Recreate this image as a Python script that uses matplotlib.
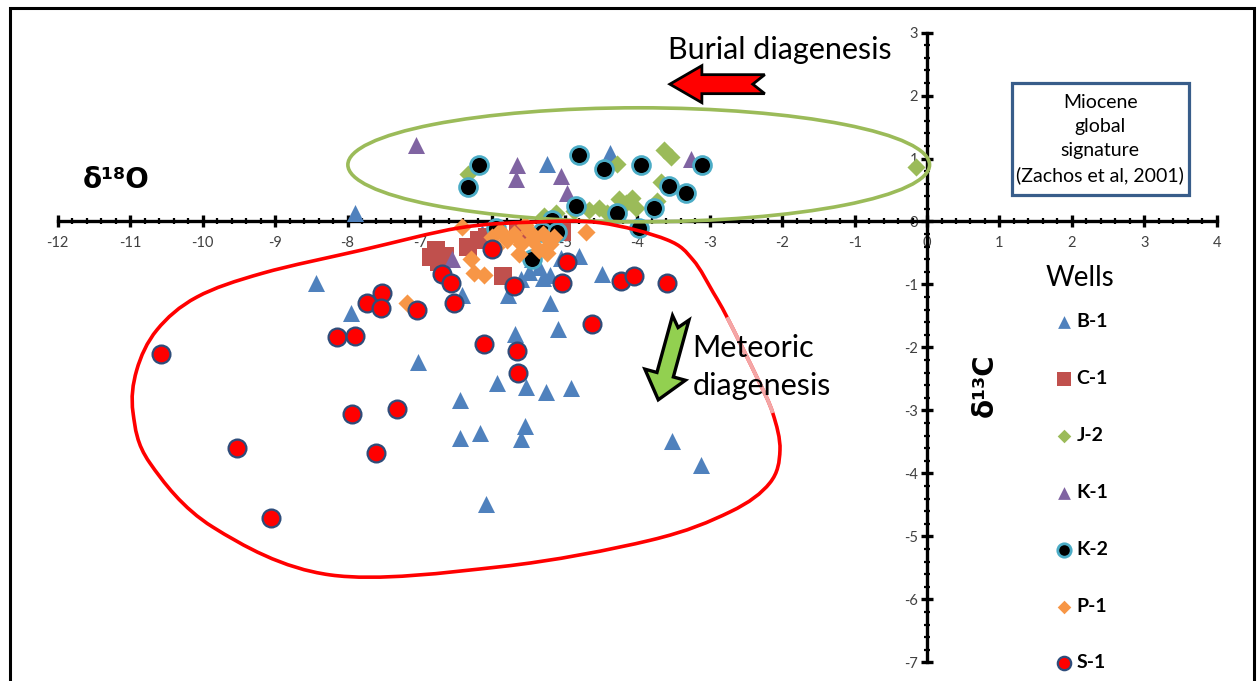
import numpy as np
import matplotlib
matplotlib.use("Agg")
import matplotlib.pyplot as plt
from matplotlib.patches import Ellipse, Polygon, PathPatch, Rectangle
from matplotlib.path import Path
from matplotlib.ticker import FixedLocator

plt.rcParams['font.family'] = ['Lato', 'DejaVu Sans']
plt.rcParams['axes.unicode_minus'] = False

# ---- stable isotope data (d18O, d13C) per well ----
wells = ["B-1", "C-1", "J-2", "K-1", "K-2", "P-1", "S-1"]

b1_d18o = [-7.90, -4.37, -5.25, -8.43, -7.95, -7.02, -6.45, -6.45, -6.17, -6.09, -5.61,
           -5.55, -5.93, -5.54, -5.26, -4.92, -5.69, -5.10, -5.21, -5.79, -6.42, -4.49,
           -4.80, -3.52, -3.12, -6.15, -5.50, -5.35, -5.60, -5.20, -5.45, -5.05, -5.30]
b1_d13c = [0.13, 1.08, 0.92, -0.98, -1.46, -2.23, -2.83, -3.44, -3.36, -4.48, -3.45,
           -3.24, -2.57, -2.62, -2.70, -2.64, -1.78, -1.70, -1.30, -1.17, -1.17, -0.83,
           -0.55, -3.48, -3.87, -0.19, -0.80, -0.72, -0.92, -0.85, -0.60, -0.58, -0.90]

c1_d18o = [-6.85, -6.74, -6.78, -6.66, -6.33, -6.19, -6.08, -5.86, -5.64, -5.04]
c1_d13c = [-0.57, -0.65, -0.46, -0.54, -0.41, -0.30, -0.24, -0.86, -0.17, -0.17]

j2_d18o = [-3.63, -3.54, -4.28, -3.67, -3.73, -4.07, -4.25, -4.53, -4.67, -4.88, -5.12,
           -5.29, -6.33, -4.02, -4.42, -4.15, -0.15]
j2_d13c = [1.13, 1.03, 0.92, 0.63, 0.33, 0.38, 0.35, 0.21, 0.19, 0.16, 0.13,
           0.08, 0.75, 0.22, 0.14, 0.30, 0.86]

k1_d18o = [-7.06, -5.66, -5.67, -5.05, -4.97, -3.26, -6.56]
k1_d13c = [1.21, 0.89, 0.68, 0.73, 0.46, 0.99, -0.59]

k2_d18o = [-6.19, -6.33, -4.81, -4.46, -3.95, -3.11, -3.56, -3.33, -4.85, -4.28, -3.77,
           -3.98, -5.18, -5.32, -5.11, -5.95, -5.46]
k2_d13c = [0.89, 0.54, 1.05, 0.84, 0.89, 0.89, 0.57, 0.46, 0.25, 0.13, 0.21,
           -0.11, 0.02, -0.17, -0.17, -0.10, -0.59]

p1_d18o = [-6.42, -6.30, -6.25, -6.12, -5.63, -4.71, -7.18, -5.90, -5.80, -5.70, -5.60,
           -5.50, -5.45, -5.35, -5.30, -5.20, -5.15, -5.55, -5.95, -5.25, -6.00]
p1_d13c = [-0.09, -0.60, -0.82, -0.85, -0.51, -0.17, -1.30, -0.15, -0.30, -0.20, -0.35,
           -0.15, -0.30, -0.45, -0.20, -0.35, -0.25, -0.05, -0.40, -0.50, -0.25]

s1_d18o = [-10.58, -6.70, -6.57, -6.53, -7.53, -7.73, -7.54, -7.04, -8.15, -7.89, -7.94,
           -7.32, -9.53, -7.61, -9.06, -6.12, -6.01, -4.97, -5.70, -5.04, -4.23, -4.05,
           -3.59, -4.63, -5.66, -5.64]
s1_d13c = [-2.10, -0.83, -0.98, -1.30, -1.14, -1.30, -1.38, -1.41, -1.84, -1.81, -3.05,
           -2.97, -3.60, -3.67, -4.71, -1.94, -0.43, -0.65, -1.02, -0.98, -0.94, -0.86,
           -0.97, -1.62, -2.05, -2.40]

x_ticks = list(range(-12, 5))
y_ticks = list(range(-7, 4))

# ---- figure / axes: the axes fill the whole canvas, axis lines cross at (0, 0) ----
fig = plt.figure(figsize=(12.57, 6.81), dpi=100)
ax = fig.add_axes([0, 0, 1, 1])
ax.set_xlim(-12.797, 4.555)
ax.set_ylim(-7.294, 3.516)

for side in ("top", "right"):
    ax.spines[side].set_visible(False)
ax.spines["left"].set_position(("data", 0))
ax.spines["bottom"].set_position(("data", 0))
ax.spines["left"].set_bounds(y_ticks[0], y_ticks[-1])
ax.spines["bottom"].set_bounds(x_ticks[0], x_ticks[-1])
for side in ("left", "bottom"):
    ax.spines[side].set_linewidth(2.4)
    ax.spines[side].set_zorder(2)

ax.set_xticks(x_ticks)
ax.set_yticks(y_ticks)
ax.xaxis.set_minor_locator(FixedLocator(np.arange(x_ticks[0], x_ticks[-1] + 0.01, 0.2)))
ax.yaxis.set_minor_locator(FixedLocator(np.arange(y_ticks[0], y_ticks[-1] + 0.01, 0.2)))
ax.tick_params(which="major", direction="inout", length=9, width=2.4,
               labelsize=10.5, labelcolor="#404040")
ax.tick_params(axis="x", which="major", pad=6)
ax.tick_params(axis="y", which="major", pad=2)
ax.tick_params(which="minor", direction="inout", length=4, width=1.6)

# ---- scatter series ----
common = dict(zorder=4)
h_b1 = ax.scatter(b1_d18o, b1_d13c, marker="^", s=150, color="#4F81BD", linewidths=0, label="B-1", **common)
h_c1 = ax.scatter(c1_d18o, c1_d13c, marker="s", s=180, color="#C0504D", linewidths=0, label="C-1", **common)
h_j2 = ax.scatter(j2_d18o, j2_d13c, marker="D", s=85, color="#9BBB59", linewidths=0, label="J-2", **common)
h_k1 = ax.scatter(k1_d18o, k1_d13c, marker="^", s=150, color="#8064A2", linewidths=0, label="K-1", **common)
h_k2 = ax.scatter(k2_d18o, k2_d13c, marker="o", s=165, facecolor="black", edgecolor="#4BACC6",
                  linewidths=2.0, label="K-2", **common)
h_p1 = ax.scatter(p1_d18o, p1_d13c, marker="D", s=85, color="#F79646", linewidths=0, label="P-1", **common)
h_s1 = ax.scatter(s1_d18o, s1_d13c, marker="o", s=165, facecolor="#FF0000", edgecolor="#2E4D7B",
                  linewidths=1.6, label="S-1", **common)

# ---- interpretive envelopes ----
ax.add_patch(Ellipse((-3.98, 0.90), 8.03, 1.81, fill=False, edgecolor="#9BBB59",
                     linewidth=2.6, zorder=5))

envelope = np.array([
    (-10.96, -3.04), (-10.73, -3.83), (-9.86, -4.85), (-8.24, -5.61), (-5.89, -5.48),
    (-3.82, -5.06), (-2.72, -4.61), (-2.17, -4.15), (-2.03, -3.63), (-2.13, -3.04),
    (-2.35, -2.47), (-2.76, -1.52), (-2.95, -1.13), (-3.23, -0.61), (-3.59, -0.29),
    (-4.51, -0.02), (-5.44, -0.01), (-6.45, -0.10), (-7.79, -0.45), (-9.17, -0.82),
    (-10.08, -1.20), (-10.63, -1.72), (-10.91, -2.36)])


def smooth_segments(pts, indices):
    """Closed Catmull-Rom outline as cubic Bezier segments starting at each index."""
    n = len(pts)
    verts, codes = [], []
    for i in indices:
        p0, p1, p2, p3 = pts[(i - 1) % n], pts[i], pts[(i + 1) % n], pts[(i + 2) % n]
        c1 = p1 + (p2 - p0) / 6.0
        c2 = p2 - (p3 - p1) / 6.0
        if not verts or not np.allclose(verts[-1], p1):
            verts.append(p1)
            codes.append(Path.MOVETO)
        verts += [c1, c2, p2]
        codes += [Path.CURVE4] * 3
    return Path(verts, codes)


ax.add_patch(PathPatch(smooth_segments(envelope, range(len(envelope))), fill=False,
                       edgecolor="#FF0000", linewidth=2.6, zorder=5))
ax.add_patch(PathPatch(smooth_segments(envelope, [9, 10]), fill=False,
                       edgecolor="#F4A6A6", linewidth=2.8, zorder=5.1))


# ---- block arrows (widths in pixels, ends in data units) ----
def block_arrow(tail, tip, half_shaft, half_head, head_len, notch, **kw):
    t = ax.transData.transform(tail)
    p = ax.transData.transform(tip)
    d = p - t
    L = np.hypot(*d)
    u = d / L
    nrm = np.array([-u[1], u[0]])
    b = t + (L - head_len) * u
    pts = [t + half_shaft * nrm, b + half_shaft * nrm, b + half_head * nrm, p,
           b - half_head * nrm, b - half_shaft * nrm, t - half_shaft * nrm, t + notch * u]
    pts = ax.transData.inverted().transform(np.array(pts))
    ax.add_patch(Polygon(pts, closed=True, **kw))


block_arrow((-2.24, 2.18), (-3.55, 2.18), 9.5, 18.5, 32, 12,
            facecolor="#FF0000", edgecolor="black", linewidth=2.0, zorder=6)
block_arrow((-3.40, -1.53), (-3.71, -2.83), 8.5, 21, 26, 10,
            facecolor="#92D050", edgecolor="black", linewidth=2.4, zorder=6)

# ---- annotations ----
ax.text(-3.58, 2.72, "Burial diagenesis", fontsize=22, ha="left", va="center", zorder=7)
ax.text(-3.24, -2.01, "Meteoric", fontsize=22, ha="left", va="center", zorder=7)
ax.text(-3.24, -2.61, "diagenesis", fontsize=22, ha="left", va="center", zorder=7)

ax.text(-11.66, 0.66, "δ¹⁸O", fontsize=20, fontweight="bold", family=["DejaVu Sans"],
        ha="left", va="center", zorder=7)
ax.text(0.80, -2.60, "δ¹³C", fontsize=20, fontweight="bold", family=["DejaVu Sans"],
        rotation=90, ha="center", va="center", zorder=7)

ax.add_patch(Rectangle((1.17, 0.42), 2.45, 1.78, fill=False, edgecolor="#385D8A",
                       linewidth=2.3, zorder=6))
ax.text(2.39, 1.31, "Miocene\nglobal\nsignature\n(Zachos et al, 2001)", fontsize=14,
        ha="center", va="center", linespacing=1.5, zorder=7)

# ---- legend ----
leg = ax.legend(handles=[h_b1, h_c1, h_j2, h_k1, h_k2, h_p1, h_s1], labels=wells,
                title="Wells", loc="upper left", bbox_to_anchor=(0.818, 0.636),
                frameon=False, scatterpoints=1, markerscale=0.75, labelspacing=2.05,
                handletextpad=0.05, handlelength=1.2, prop=dict(weight="bold", size=14),
                title_fontsize=20)
# tighter gap between the title and the first entry
leg._legend_box.sep = 15.8

# ---- outer frame ----
fig.patches.append(Rectangle((10 / 1257, -0.02), 1244 / 1257, 1.02 - 8 / 681, fill=False,
                             edgecolor="black", linewidth=2.2, transform=fig.transFigure,
                             figure=fig))

fig.savefig("out.png", dpi=100)
